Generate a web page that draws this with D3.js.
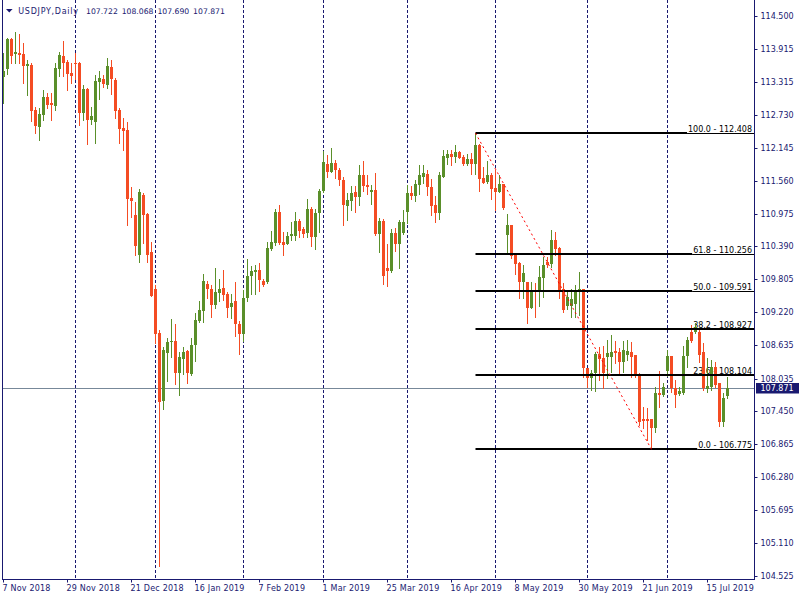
<!DOCTYPE html>
<html><head><meta charset="utf-8">
<script src="https://cdn.jsdelivr.net/npm/d3@7"></script>
<style>body{margin:0;background:#fff}svg{display:block}</style>
</head><body><svg id="c" width="800" height="600"></svg>
<script>
// ---------- data ----------
const symbol = "USDJPY,Daily";
const startDate = "2018-11-07", endDate = "2019-07-22";
const holidays = ["2018-12-25", "2019-01-01"];

const open = [113.408,113.551,114.085,113.818,113.841,113.818,113.610,113.622,112.821,112.523,
112.731,113.052,112.951,112.892,113.551,113.788,113.681,113.485,113.663,113.663,
112.772,113.200,112.642,112.612,113.325,113.373,113.271,113.587,113.355,112.821,
112.505,112.464,111.248,110.950,110.238,111.307,110.968,110.296,109.632,108.854,
107.637,108.497,108.693,108.706,108.141,108.391,108.528,108.123,108.640,109.067,
109.246,109.721,109.632,109.352,109.555,109.650,109.543,109.317,109.418,109.009,
108.836,109.477,109.864,109.935,109.970,109.775,109.757,110.339,110.457,111.004,
110.469,110.434,110.576,110.576,110.843,110.701,110.630,111.062,110.564,110.980,
111.378,111.864,111.716,111.877,111.752,111.574,111.111,111.205,111.360,111.276,
111.663,111.485,111.365,111.396,110.606,110.843,110.011,109.958,110.630,110.434,
110.630,111.009,111.342,111.294,111.485,111.632,111.681,111.449,111.128,110.986,
111.632,111.966,112.037,111.983,112.072,111.983,111.859,111.948,111.864,112.203,
111.615,111.538,111.663,111.431,111.365,111.502,110.599,110.767,110.250,110.090,
109.762,109.757,109.299,109.614,109.584,109.833,110.118,110.072,110.505,110.368,
109.637,109.335,109.335,109.370,109.584,109.627,108.220,108.052,108.130,108.469,
108.398,108.426,108.426,108.533,108.515,108.337,108.462,108.515,108.456,108.100,
107.311,107.311,107.311,107.151,107.774,107.744,108.177,108.439,107.863,107.762,
107.774,108.439,108.871,108.871,108.871,108.515,107.845,107.881,108.248,107.952,
107.268,107.722];
const high = [113.836,114.108,114.108,114.215,114.180,114.019,113.711,113.663,112.874,112.856,
113.177,113.123,113.123,113.663,113.859,114.044,113.711,113.658,113.836,113.676,
113.266,113.212,112.874,113.444,113.515,113.444,113.747,113.711,113.391,112.856,
112.678,112.607,111.449,111.187,111.413,111.347,110.991,110.475,109.703,108.902,
108.594,108.759,109.098,109.009,108.510,108.599,108.545,108.759,109.210,109.418,
109.899,109.775,109.703,110.006,109.810,109.970,109.579,109.543,109.757,109.062,
109.614,110.166,110.042,110.060,110.095,109.810,110.469,110.665,111.052,111.128,
110.647,110.647,110.831,111.004,110.879,110.736,111.235,111.093,111.062,111.413,
112.096,112.019,112.144,111.930,111.793,111.632,111.337,111.461,111.467,111.846,
111.912,111.657,111.485,111.698,110.891,110.879,110.434,110.701,110.719,110.861,
111.039,111.485,111.467,111.574,111.841,111.841,111.752,111.592,111.289,111.722,
112.108,112.108,112.108,112.203,112.096,112.019,112.037,112.055,112.408,112.215,
111.811,111.917,111.704,111.752,111.663,111.502,110.968,110.767,110.279,110.118,
110.060,109.757,109.757,109.739,110.042,110.207,110.207,110.683,110.647,110.386,
109.734,109.614,109.627,109.703,109.930,109.627,108.225,108.189,108.515,108.604,
108.617,108.724,108.813,108.706,108.576,108.711,108.724,108.693,108.456,108.141,
107.535,107.507,107.311,107.881,108.171,107.952,108.545,108.439,108.011,107.881,
108.617,108.782,108.991,109.021,108.920,108.665,108.398,108.367,108.337,107.952,
107.774,108.068];
const low = [112.945,113.462,113.658,113.658,113.658,113.307,113.093,112.630,112.416,112.286,
112.642,112.856,112.642,112.821,113.426,113.426,113.177,113.307,113.373,112.553,
112.642,112.215,112.571,112.233,113.022,113.225,113.207,113.100,112.678,112.233,
112.108,110.772,110.915,110.238,110.118,110.446,110.118,109.507,108.675,104.698,
107.500,107.999,108.426,107.940,107.749,108.123,107.963,108.106,108.355,109.050,
109.050,109.477,109.139,109.299,109.424,109.441,109.139,109.121,108.800,108.480,
108.711,109.424,109.548,109.548,109.596,109.686,109.739,110.327,110.411,110.428,
110.243,110.428,110.505,110.505,110.558,110.558,110.564,110.398,110.339,110.653,
111.360,111.632,111.710,111.609,111.490,110.772,110.861,111.039,111.004,111.128,
111.378,111.319,111.146,110.600,110.286,109.721,109.691,109.940,110.304,110.011,
110.617,110.802,111.235,111.205,111.324,111.515,111.312,110.950,110.831,110.879,
111.622,111.864,111.841,111.889,111.960,111.841,111.846,111.672,111.681,111.383,
111.515,111.526,111.240,111.039,111.355,111.057,110.268,110.190,109.899,109.466,
109.466,109.021,109.288,109.139,109.329,109.495,110.029,110.029,110.238,109.466,
109.217,109.276,109.139,109.139,109.169,108.059,107.892,107.833,107.821,108.011,
107.863,108.041,108.159,108.319,108.141,108.159,108.367,108.070,108.059,107.210,
107.151,106.942,106.775,107.090,107.535,107.726,108.082,107.803,107.525,107.744,
107.762,108.248,108.693,108.843,108.337,107.833,107.803,107.833,107.881,107.192,
107.192,107.690];
const close = [113.515,114.085,113.782,113.854,113.806,113.610,113.640,112.808,112.536,112.749,
113.052,112.910,112.910,113.569,113.800,113.663,113.467,113.426,113.652,112.772,
113.195,112.642,112.714,113.337,113.391,113.284,113.604,113.378,112.808,112.488,
112.452,111.235,111.205,110.403,111.355,110.950,110.238,109.513,108.836,107.625,
108.545,108.688,108.706,108.141,108.421,108.510,108.141,108.635,109.080,109.258,
109.775,109.637,109.352,109.579,109.632,109.530,109.299,109.383,109.014,108.836,
109.472,109.864,109.953,109.970,109.792,109.703,110.362,110.469,111.004,110.446,
110.416,110.576,110.612,110.843,110.665,110.612,111.057,110.564,110.986,111.378,
111.894,111.716,111.877,111.752,111.568,111.128,111.217,111.342,111.276,111.663,
111.461,111.444,111.396,110.612,110.843,109.869,109.958,110.630,110.434,110.826,
110.826,111.342,111.294,111.502,111.663,111.704,111.454,111.116,110.986,111.663,
112.001,112.037,111.983,112.072,111.971,111.859,111.948,111.859,112.203,111.597,
111.526,111.663,111.413,111.365,111.502,111.075,110.767,110.225,110.077,109.762,
109.912,109.299,109.614,109.596,109.851,110.065,110.060,110.505,110.345,109.602,
109.258,109.495,109.459,109.596,109.627,108.220,108.052,108.141,108.469,108.385,
108.130,108.487,108.515,108.497,108.337,108.545,108.533,108.426,108.082,107.268,
107.286,107.286,107.151,107.774,107.744,107.881,108.439,107.863,107.744,107.821,
108.439,108.724,108.711,108.960,108.456,107.863,107.904,108.248,107.922,107.268,
107.685,107.871];

const priceTicks = [114.500,113.915,113.315,112.730,112.145,111.560,110.975,110.390,109.805,
109.220,108.635,108.035,107.450,106.865,106.280,105.695,105.110,104.525];

const fibStartDate = "2019-04-24", fibEndDate = "2019-06-25";
const fibLevels = [100.0, 61.8, 50.0, 38.2, 23.6, 0.0];
const fibPrices = [112.408, 110.256, 109.591, 108.927, 108.104, 106.775];

// ---------- setup ----------
const W = 800, H = 600;
const plotRight = 754, plotBottom = 579, plotLeft = 2;
const navy = "#191970", bull = "#5A8F2A", bear = "#F44C23";
const font = "DejaVu Sans, Verdana, sans-serif";

const parse = d3.timeParse("%Y-%m-%d"), key = d3.timeFormat("%Y-%m-%d");
const fmtLabel = d3.timeFormat("%-d %b %Y");
const dates = d3.timeDay.range(parse(startDate), d3.timeDay.offset(parse(endDate), 1))
  .filter(d => d.getDay() % 6 !== 0 && !holidays.includes(key(d)));
const keys = dates.map(key);
const data = keys.map((k, i) => ({k, d: dates[i], o: open[i], h: high[i], l: low[i], c: close[i]}));

const step = 4;
const x = d3.scaleBand().domain(keys).range([1.5, 1.5 + step * keys.length]).padding(0);
const xc = k => x(k) + x.bandwidth() / 2;
const y = d3.scaleLinear().domain([104.525, 114.5]).range([575.7, 15.7]);
const yr = v => Math.round(y(v));

const svg = d3.select("#c");
svg.append("rect").attr("width", W).attr("height", H).attr("fill", "#fff");
svg.append("defs").append("clipPath").attr("id", "clip")
  .append("rect").attr("x", plotLeft + 1).attr("y", 0).attr("width", plotRight - plotLeft - 1).attr("height", plotBottom);

const plot = svg.append("g").attr("clip-path", "url(#clip)");

// period separators (first bar of each month)
const sepKeys = data.filter((d, i) => i > 0 && d.d.getMonth() !== data[i - 1].d.getMonth()).map(d => d.k);
plot.selectAll("line.sep").data(sepKeys).join("line")
  .attr("x1", d => xc(d)).attr("x2", d => xc(d)).attr("y1", 0).attr("y2", plotBottom)
  .attr("stroke", navy).attr("stroke-width", 1).attr("stroke-dasharray", "3,2");

// fib labels (drawn below candles)
const fx1 = xc(fibStartDate);
const fibData = fibLevels.map((lv, i) => ({lv, p: fibPrices[i]}));
const fullLevels = [38.2, 23.6];
const fibText = plot.selectAll("text.fib").data(fibData).join("text")
  .attr("x", 752).attr("y", d => yr(d.p) - 1.5)
  .attr("text-anchor", "end").attr("font-family", font).attr("font-size", 8)
  .attr("fill", "#000")
  .text(d => d3.format(".1f")(d.lv) + " - " + d3.format(".3f")(d.p));

// bid line
const bid = close[close.length - 1];
plot.append("line").attr("x1", 0).attr("x2", plotRight).attr("y1", yr(bid) + 0.5).attr("y2", yr(bid) + 0.5)
  .attr("stroke", "#778899").attr("stroke-width", 1);

// candles
const cg = plot.append("g");
cg.selectAll("rect.wick").data(data).join("rect")
  .attr("x", d => xc(d.k) - 0.5).attr("width", 1)
  .attr("y", d => yr(d.h)).attr("height", d => yr(d.l) - yr(d.h) + 1)
  .attr("fill", d => d.c >= d.o ? bull : bear);
cg.selectAll("rect.body").data(data).join("rect")
  .attr("x", d => xc(d.k) - 1.5).attr("width", 3)
  .attr("y", d => yr(Math.max(d.o, d.c)))
  .attr("height", d => Math.max(1, yr(Math.min(d.o, d.c)) - yr(Math.max(d.o, d.c))))
  .attr("fill", d => d.c >= d.o ? bull : bear);

// fib lines (over candles)
fibText.each(function(d) {
  const w = this.getComputedTextLength();
  d.ls = 752 - w - 1;
});
plot.selectAll("rect.fibthick").data(fibData).join("rect")
  .attr("x", fx1).attr("y", d => yr(d.p) - 1).attr("height", 2)
  .attr("width", d => (fullLevels.includes(d.lv) ? plotRight : d.ls) - fx1)
  .attr("fill", "#000");
plot.selectAll("rect.fibthin").data(fibData.filter(d => !fullLevels.includes(d.lv))).join("rect")
  .attr("x", d => d.ls).attr("y", d => yr(d.p)).attr("height", 1)
  .attr("width", d => plotRight - d.ls).attr("fill", "#000");

// trend line between fib anchors
plot.append("line")
  .attr("x1", fx1).attr("y1", y(fibPrices[0]))
  .attr("x2", xc(fibEndDate)).attr("y2", y(fibPrices[fibPrices.length - 1]))
  .attr("stroke", "#FF0000").attr("stroke-width", 1).attr("stroke-dasharray", "2,3");

// frame
svg.append("line").attr("x1", plotLeft + 0.5).attr("x2", plotLeft + 0.5).attr("y1", 0).attr("y2", plotBottom + 0.5).attr("stroke", navy);
svg.append("line").attr("x1", plotLeft).attr("x2", plotRight + 1).attr("y1", plotBottom + 0.5).attr("y2", plotBottom + 0.5).attr("stroke", navy);
svg.append("line").attr("x1", plotRight + 0.5).attr("x2", plotRight + 0.5).attr("y1", 0).attr("y2", plotBottom + 0.5).attr("stroke", navy);

// right price axis
const yAxisScale = y.copy().interpolate(d3.interpolateRound);
const ya = svg.append("g").attr("transform", `translate(${plotRight + 0.5},0)`)
  .call(d3.axisRight(yAxisScale).tickValues(priceTicks).tickFormat(d3.format(".3f")).tickSize(3).tickPadding(3));
ya.select(".domain").remove();
ya.selectAll("line").attr("stroke", navy);
ya.selectAll("text").attr("font-family", font).attr("font-size", 8).attr("fill", navy);

// bottom date axis
const tickKeys = keys.filter((k, i) => i % 16 === 0);
const xa = svg.append("g").attr("transform", `translate(0,${plotBottom + 0.5})`)
  .call(d3.axisBottom(x).tickValues(tickKeys).tickFormat(k => fmtLabel(parse(k))).tickSize(3).tickPadding(3));
xa.select(".domain").remove();
xa.selectAll("line").attr("stroke", navy);
xa.selectAll("text").attr("font-family", font).attr("font-size", 8).attr("letter-spacing", 0.2)
  .attr("fill", navy).attr("text-anchor", "start").attr("x", -1);

// bid label
const yb = yr(bid);
svg.append("rect").attr("x", 756).attr("y", yb - 5).attr("width", 43).attr("height", 10.5).attr("fill", navy);
svg.append("text").attr("x", 760.5).attr("y", yb + 3.3).attr("font-family", font).attr("font-size", 8)
  .attr("fill", "#fff").text(d3.format(".3f")(bid));

// header
svg.append("path").attr("d", "M6,9 L12.6,9 L9.3,12.6 Z").attr("fill", navy);
svg.append("text").attr("x", 18.3).attr("y", 14).attr("font-family", font).attr("font-size", 8)
  .attr("letter-spacing", 0.72).attr("fill", navy).text(symbol);
const last = data[data.length - 1];
const hdrVals = [last.o, last.h, last.l, last.c];
svg.selectAll("text.hdr").data(hdrVals).join("text")
  .attr("x", (d, i) => 86 + i * 35.7).attr("y", 14)
  .attr("font-family", font).attr("font-size", 7.7).attr("fill", navy)
  .text(d => d3.format(".3f")(d));
</script></body></html>
